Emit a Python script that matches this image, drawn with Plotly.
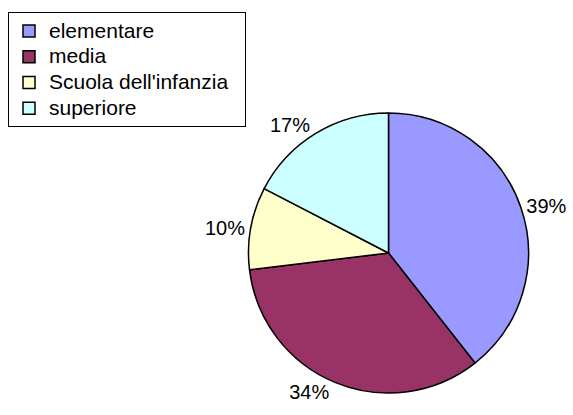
import plotly.graph_objects as go

categories = ["elementare", "media", "Scuola dell'infanzia", "superiore"]
values = [39.4, 33.7, 9.5, 17.4]
colors = ["#9999FF", "#993366", "#FFFFCC", "#CCFFFF"]

W, H = 573, 415
cx, cy, r = 388.5, 253, 140
FONT = "Liberation Sans, Arial, sans-serif"

# legend text drawn a bit larger than the legend's nominal row font (tighter rows, like the original),
# with a little trailing padding so the box is as wide as the original's
legend_labels = ['<span style="font-size:21px">%s\u00a0\u00a0</span>' % c for c in categories]

fig = go.Figure(go.Pie(
    labels=legend_labels,
    values=values,
    customdata=categories,
    sort=False,
    direction="clockwise",
    rotation=0,
    marker=dict(colors=colors, line=dict(color="black", width=1.5)),
    texttemplate="%{percent:.0%}",
    textposition="outside",
    textfont=dict(family=FONT, size=20, color="black"),
    hovertemplate="%{customdata}: %{percent:.0%}<extra></extra>",
    domain=dict(x=[(cx - r) / W, (cx + r) / W], y=[(H - cy - r) / H, (H - cy + r) / H]),
))

fig.update_layout(
    width=W, height=H,
    margin=dict(l=0, r=0, t=0, b=0),
    paper_bgcolor="white",
    font=dict(family=FONT, size=20, color="black"),
    showlegend=True,
    legend=dict(
        x=8 / W, y=1 - 12 / H, xanchor="left", yanchor="top",
        bgcolor="white", bordercolor="black", borderwidth=1,
        font=dict(family=FONT, size=17.5, color="black"),
    ),
)

fig.write_html("out.html", config={"displayModeBar": False},
               post_script="document.body.style.margin='0';")
